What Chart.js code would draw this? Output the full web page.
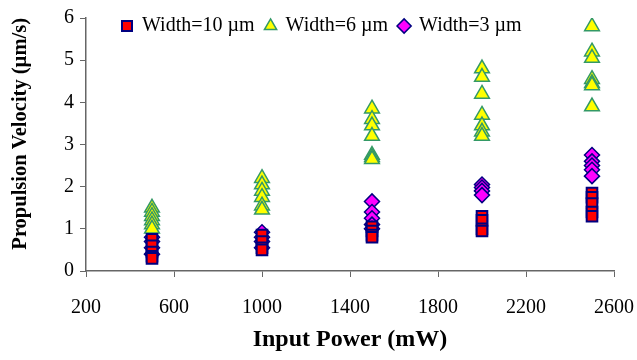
<!DOCTYPE html>
<html>
<head>
<meta charset="utf-8">
<script src="https://cdn.jsdelivr.net/npm/chart.js@4.4.0/dist/chart.umd.min.js"></script>
<style>
  html, body { margin: 0; padding: 0; background: #fff; }
  #wrap { width: 637px; height: 360px; }
</style>
</head>
<body>
<div id="wrap"><canvas id="velocityChart" width="637" height="360"></canvas></div>
<script>
// input power groups (mW)
const powers = [500, 1000, 1500, 2000, 2500];

// velocities (µm/s) read per power group
const width10Um = [
  [0.75, 0.6, 0.45, 0.35, 0.3],
  [0.85, 0.7, 0.55, 0.5],
  [1.05, 0.95, 0.85, 0.8],
  [1.3, 1.2, 1.0, 0.95],
  [1.85, 1.75, 1.6, 1.4, 1.3]
];
const width6Um = [
  [1.5, 1.4, 1.3, 1.2, 1.1, 1.0],
  [2.2, 2.05, 1.9, 1.75, 1.55, 1.45],
  [3.85, 3.6, 3.45, 3.2, 2.75, 2.7, 2.65],
  [4.8, 4.6, 4.2, 3.7, 3.45, 3.3, 3.2],
  [5.8, 5.2, 5.05, 4.55, 4.45, 4.4, 3.9]
];
const width3Um = [
  [0.8, 0.7, 0.55, 0.4],
  [0.92, 0.8, 0.7, 0.55],
  [1.65, 1.4, 1.25, 1.1, 1.0],
  [2.05, 1.98, 1.9, 1.8],
  [2.75, 2.6, 2.5, 2.4, 2.25]
];

const seriesNames = ['Width=10 \u00b5m', 'Width=6 \u00b5m', 'Width=3 \u00b5m'];
const xTicks = [200, 600, 1000, 1400, 1800, 2200, 2600];
const yTicks = [0, 1, 2, 3, 4, 5, 6];

const serif = '"Liberation Serif", "Times New Roman", serif';
const axisColor = '#666666';

// turn grouped values into scatter points
function toPoints(groups) {
  const pts = [];
  groups.forEach((vals, i) => {
    vals.forEach(v => pts.push({ x: powers[i], y: v }));
  });
  return pts;
}

// legend sits inside the plot area like in the original:
// take no layout room, then move its box over the plot
const legendInside = {
  id: 'legendInside',
  beforeLayout(chart) {
    const lg = chart.legend;
    if (lg && !lg._noHeight) {
      const fit = lg.fit.bind(lg);
      lg.fit = function () { fit(); this.height = 0; };
      lg._noHeight = true;
    }
  },
  afterLayout(chart) {
    const lg = chart.legend;
    if (!lg) return;
    lg.left = 111;
    lg.top = 5;
    lg.right = chart.chartArea.right;
    lg.bottom = 45;
  }
};

const ctx = document.getElementById('velocityChart').getContext('2d');

new Chart(ctx, {
  type: 'scatter',
  data: {
    datasets: [
      {
        label: seriesNames[0],
        data: toPoints(width10Um),
        pointStyle: 'rect',
        pointRadius: 7.5,
        pointHoverRadius: 7.5,
        backgroundColor: '#FF0000',
        borderColor: '#000080',
        pointBorderWidth: 2
      },
      {
        label: seriesNames[1],
        data: toPoints(width6Um),
        pointStyle: 'triangle',
        pointRadius: 8.5,
        pointHoverRadius: 8.5,
        backgroundColor: '#FFFF00',
        borderColor: '#339966',
        pointBorderWidth: 1.5
      },
      {
        label: seriesNames[2],
        data: toPoints(width3Um),
        pointStyle: 'rectRot',
        pointRadius: 7.5,
        pointHoverRadius: 7.5,
        backgroundColor: '#FF00FF',
        borderColor: '#000080',
        pointBorderWidth: 1.5
      }
    ]
  },
  options: {
    responsive: false,
    animation: false,
    layout: { padding: { top: 18, right: 23, left: 0, bottom: 0 } },
    plugins: {
      tooltip: { enabled: false },
      legend: {
        position: 'top',
        align: 'start',
        labels: {
          usePointStyle: true,
          boxWidth: 10,
          boxHeight: 10,
          padding: 11,
          color: '#000',
          font: { family: serif, size: 20 }
        }
      }
    },
    scales: {
      x: {
        type: 'linear',
        min: 200,
        max: 2600,
        afterBuildTicks: axis => { axis.ticks = xTicks.map(v => ({ value: v })); },
        afterFit: axis => {
          axis.height = 89;
          axis.paddingLeft = 0;
          axis.paddingRight = 0;
        },
        grid: { drawOnChartArea: false, color: axisColor, tickLength: 6 },
        border: { color: axisColor, width: 1.5 },
        ticks: {
          color: '#000',
          padding: 19,
          font: { family: serif, size: 20 },
          callback: v => String(v)
        },
        title: {
          display: true,
          text: 'Input Power (mW)',
          color: '#000',
          padding: { top: 0, bottom: 6 },
          font: { family: serif, size: 24, weight: 'bold' }
        }
      },
      y: {
        min: 0,
        max: 6,
        afterBuildTicks: axis => { axis.ticks = yTicks.map(v => ({ value: v })); },
        afterFit: axis => {
          axis.width = 86;
          axis.paddingTop = 0;
          axis.paddingBottom = 0;
        },
        grid: { drawOnChartArea: false, color: axisColor, tickLength: 6 },
        border: { color: axisColor, width: 1.5 },
        ticks: { color: '#000', padding: 6, font: { family: serif, size: 20 } },
        title: {
          display: true,
          text: 'Propulsion Velocity (\u00b5m/s)',
          align: 'end',
          color: '#000',
          padding: { top: 8, bottom: 0 },
          font: { family: serif, size: 20.5, weight: 'bold' }
        }
      }
    }
  },
  plugins: [legendInside]
});
</script>
</body>
</html>
